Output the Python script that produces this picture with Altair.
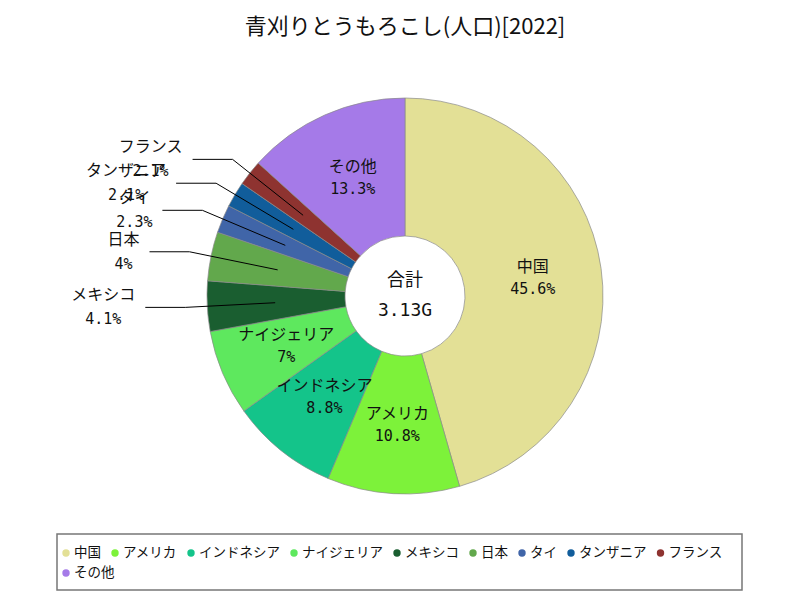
import altair as alt
import pandas as pd
import numpy as np

# ---- data ----
names = ["中国", "アメリカ", "インドネシア", "ナイジェリア", "メキシコ", "日本", "タイ", "タンザニア", "フランス", "その他"]
shares = [45.6, 10.8, 8.8, 7.0, 4.1, 4.0, 2.3, 2.1, 2.1, 13.3]
value_labels = ["45.6%", "10.8%", "8.8%", "7%", "4.1%", "4%", "2.3%", "2.1%", "2.1%", "13.3%"]
outside = [False, False, False, False, True, True, True, True, True, False]
colors = ["#e3e096", "#7df23a", "#14c48a", "#5ee85e", "#1a5e30", "#62a84c", "#4065a8", "#115d9b", "#8e3330", "#a57ae8"]
title_text = ["青刈りとうもろこし(人口)[2022]"]
total_text = ["合計", "3.13G"]

# ---- geometry (layout constants) ----
W, H = 784, 584
CX, CY = 397, 288
R_OUT, R_IN = 198, 60
R_LABEL = 129
R_LINE_IN, R_ELBOW, HORIZ = 130, 220, 40
JP = "Noto Sans CJK JP"
MONO = "DejaVu Sans Mono"

# legend layout
LEG_X0, LEG_X1, LEG_Y0, LEG_Y1 = 49, 734, 526, 582
LEG_SYM_X0 = 58
LEG_ROW_Y = [545, 565]
LEG_FONT = 13.5
LEG_GAP = 22
LEG_MAX_X = 725

df = pd.DataFrame({"name": names, "share": shares, "vlabel": value_labels,
                   "outside": outside, "idx": range(len(names))})
total = df["share"].sum()
df["start"] = df["share"].cumsum() - df["share"]
df["mid"] = (df["start"] + df["share"] / 2) / total * 2 * np.pi


def pt(r, a):
    return CX + r * np.sin(a), CY - r * np.cos(a)


# inside labels
ins = df[~df["outside"]].copy()
ins["lx"], ins["ly"] = pt(R_LABEL, ins["mid"])
ins["ny"] = ins["ly"] - 11
ins["vy"] = ins["ly"] + 11

# outside labels + leader lines
out = df[df["outside"]].copy()
rows = []
lab_rows = []
for _, r in out.iterrows():
    x1, y1 = pt(R_LINE_IN, r["mid"])
    x2, y2 = pt(R_ELBOW, r["mid"])
    x3, y3 = x2 - HORIZ, y2
    rows += [{"name": r["name"], "seq": 0, "px": x1, "py": y1},
             {"name": r["name"], "seq": 1, "px": x2, "py": y2},
             {"name": r["name"], "seq": 2, "px": x3, "py": y3}]
    wname = len(r["name"]) * 16
    wval = len(r["vlabel"]) * 9
    cx = x3 - 10 - max(wname, wval) / 2
    lab_rows.append({"name": r["name"], "vlabel": r["vlabel"], "lx": cx, "ny": y2 - 12, "vy": y2 + 12})
lines = pd.DataFrame(rows)
olab = pd.DataFrame(lab_rows)

# legend items (flowing layout)
leg_rows = []
x, row = LEG_SYM_X0, 0
for n in names:
    w = len(n) * LEG_FONT + LEG_GAP
    if x + w - LEG_GAP > LEG_MAX_X:
        row += 1
        x = LEG_SYM_X0
    leg_rows.append({"name": n, "sx": x, "tx": x + 8, "sy": LEG_ROW_Y[row]})
    x += w
leg = pd.DataFrame(leg_rows)

X = lambda f: alt.X(f, scale=None, axis=None)
Y = lambda f: alt.Y(f, scale=None, axis=None)
cscale = alt.Scale(domain=names, range=colors)

pie = alt.Chart(df).mark_arc(outerRadius=R_OUT, innerRadius=R_IN, stroke="#8a8a8a", strokeWidth=0.7).encode(
    theta=alt.Theta("share:Q", stack=True),
    order=alt.Order("idx:Q"),
    color=alt.Color("name:N", scale=cscale, legend=None),
    x=alt.value(CX), y=alt.value(CY),
)

in_names = alt.Chart(ins).mark_text(font=JP, fontSize=16, color="#111").encode(
    x=X("lx:Q"), y=Y("ny:Q"), text="name:N")
in_vals = alt.Chart(ins).mark_text(font=MONO, fontSize=15, color="#111").encode(
    x=X("lx:Q"), y=Y("vy:Q"), text="vlabel:N")

leader = alt.Chart(lines).mark_line(color="black", strokeWidth=1).encode(
    x=X("px:Q"), y=Y("py:Q"), detail="name:N", order="seq:Q")
out_names = alt.Chart(olab).mark_text(font=JP, fontSize=16, color="#111").encode(
    x=X("lx:Q"), y=Y("ny:Q"), text="name:N")
out_vals = alt.Chart(olab).mark_text(font=MONO, fontSize=15, color="#111").encode(
    x=X("lx:Q"), y=Y("vy:Q"), text="vlabel:N")

center_df = pd.DataFrame({"t": total_text, "k": [0, 1]})
center1 = alt.Chart(center_df[center_df.k == 0]).mark_text(font=JP, fontSize=18, color="#111").encode(
    x=alt.value(CX), y=alt.value(CY - 15), text="t:N")
center2 = alt.Chart(center_df[center_df.k == 1]).mark_text(font=MONO, fontSize=18, color="#111").encode(
    x=alt.value(CX), y=alt.value(CY + 15), text="t:N")

title = alt.Chart(pd.DataFrame({"t": title_text})).mark_text(font=JP, fontSize=22, color="#111").encode(
    x=alt.value(CX), y=alt.value(19), text="t:N")

leg_box = alt.Chart(pd.DataFrame({"k": [0]})).mark_rect(fill="white", stroke="#777", strokeWidth=1.5).encode(
    x=alt.value(LEG_X0), x2=alt.value(LEG_X1), y=alt.value(LEG_Y0), y2=alt.value(LEG_Y1))
leg_sym = alt.Chart(leg).mark_circle(size=55, opacity=1).encode(
    x=X("sx:Q"), y=Y("sy:Q"), color=alt.Color("name:N", scale=cscale, legend=None))
leg_txt = alt.Chart(leg).mark_text(font=JP, fontSize=LEG_FONT, color="#111", align="left").encode(
    x=X("tx:Q"), y=Y("sy:Q"), text="name:N")

chart = alt.layer(pie, leader, in_names, in_vals, out_names, out_vals, center1, center2, title,
                  leg_box, leg_sym, leg_txt).properties(
    width=W, height=H, autosize=alt.AutoSizeParams(type="none"), padding=0
).configure(background="white").configure_view(stroke=None)

chart.save("out.html", embed_options={"renderer": "svg", "actions": False})
